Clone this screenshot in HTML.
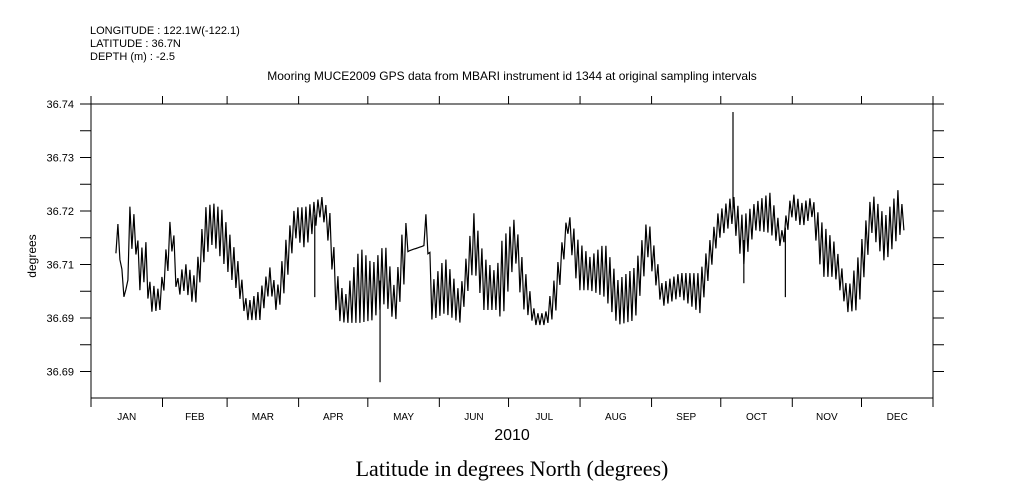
<!DOCTYPE html>
<html><head><meta charset="utf-8"><style>
body{margin:0;background:#fff;}
svg{display:block;font-family:"Liberation Sans",sans-serif;}
</style></head><body>
<svg id="chart" width="1009" height="504" viewBox="0 0 1009 504">
<text x="90" y="34" font-size="11">LONGITUDE : 122.1W(-122.1)</text>
<text x="90" y="47" font-size="11">LATITUDE : 36.7N</text>
<text x="90" y="60" font-size="11">DEPTH (m) : -2.5</text>
<text x="512" y="80" font-size="12" text-anchor="middle">Mooring MUCE2009 GPS data from MBARI instrument id 1344 at original sampling intervals</text>
<text transform="translate(36,256) rotate(-90)" font-size="12" text-anchor="middle">degrees</text>
<text x="512" y="440" font-size="16" text-anchor="middle">2010</text>
<text x="512" y="476" font-size="22" text-anchor="middle" font-family="Liberation Serif, serif">Latitude in degrees North (degrees)</text>
<rect x="91" y="104" width="842" height="294" fill="none" stroke="#000" stroke-width="1"/>
<g id="axes"></g>
<g id="series"></g>
</svg>
<script>
const monthLabels=["JAN","FEB","MAR","APR","MAY","JUN","JUL","AUG","SEP","OCT","NOV","DEC"];
const monthStarts=[0,31,59,90,120,151,181,212,243,273,304,334,365];
const yTickValues=[36.74,36.735,36.73,36.725,36.72,36.715,36.71,36.705,36.70,36.695,36.69];
const yTickLabels=["36.74","","36.73","","36.72","","36.71","","36.69","","36.69"];
const days=[10.8,12.1,13.0,15.2,16.9,19.1,21.2,23.4,25.6,29.9,35.1,37.3,40.7,45.1,49.4,52.9,56.8,63.3,67.6,73.2,77.6,80.6,84.1,88.4,92.8,100.1,103.6,106.6,110.1,116.6,122.0,127.4,131.8,136.1,137.4,144.3,145.5,147.8,153.4,159.9,166.0,170.3,175.6,178.2,183.8,186.8,192.5,197,201.1,206.8,211.1,216.3,222.8,228.4,235.8,241.4,247.5,255.3,264.0,271.8,278.3,282.6,287.8,294.3,299.5,303.9,308.2,312.5,316.9,322.5,328.1,332.5,338.5,344.2,349.8,352.4];
const lowVals=[36.7121,36.7150,36.7065,36.7021,36.7127,36.7133,36.7052,36.7071,36.7011,36.7015,36.7125,36.7039,36.7052,36.7021,36.7114,36.7140,36.7108,36.7052,36.6996,36.6996,36.7052,36.7009,36.7052,36.7151,36.7130,36.7196,36.7127,36.6996,36.6991,36.6991,36.6996,36.7028,36.6991,36.7071,36.7125,36.7135,36.7159,36.6996,36.7009,36.6991,36.7095,36.7015,36.7015,36.6996,36.7114,36.7021,36.6987,36.6987,36.7002,36.7159,36.7052,36.7052,36.7039,36.6987,36.6996,36.7114,36.7021,36.7039,36.7009,36.7146,36.7178,36.7095,36.7164,36.7159,36.7130,36.7189,36.7170,36.7189,36.7077,36.7077,36.7011,36.7015,36.7159,36.7103,36.7151,36.7164];
const highVals=[36.7135,36.7196,36.7100,36.7052,36.7211,36.7189,36.7114,36.7159,36.7065,36.7052,36.7206,36.7071,36.7103,36.7077,36.7206,36.7215,36.7202,36.7114,36.7028,36.7052,36.7095,36.7052,36.7140,36.7207,36.7207,36.7226,36.7196,36.7084,36.7039,36.7133,36.7100,36.7140,36.7052,36.7202,36.7125,36.7135,36.7215,36.7065,36.7114,36.7047,36.7196,36.7114,36.7084,36.7146,36.7187,36.7114,36.7009,36.7009,36.7077,36.7198,36.7146,36.7114,36.7140,36.7071,36.7095,36.7189,36.7065,36.7084,36.7084,36.7196,36.7230,36.7189,36.7215,36.7234,36.7164,36.7234,36.7215,36.7226,36.7178,36.7140,36.7052,36.7114,36.7234,36.7189,36.7239,36.7200];
const spikeDays=[97,125.3,278.3,283,301];
const spikeVals=[36.7039,36.6880,36.7385,36.7065,36.7039];

const NS="http://www.w3.org/2000/svg";
const X0=91,X1=933,Y0=104,Y1=398;
function xScale(d){return X0+(d/365)*(X1-X0);}
function yScale(v){return Y0+(36.74-v)*5350;}
function mk(tag,attrs,parent){const e=document.createElementNS(NS,tag);for(const k in attrs)e.setAttribute(k,attrs[k]);parent.appendChild(e);return e;}
const axes=document.getElementById('axes');
monthStarts.forEach((d,i)=>{
  const x=xScale(d);
  const t1=mk('line',{x1:x,x2:x,y1:Y0-8,y2:Y0,stroke:'#000'},axes);
  
  
  const t2=mk('line',{x1:x,x2:x,y1:Y1,y2:Y1+9,stroke:'#000'},axes);
  
  
  if(i<12){
    const lab=mk('text',{x:xScale((d+monthStarts[i+1])/2),y:420,'font-size':10,'text-anchor':'middle'},axes);
    lab.textContent=monthLabels[i];
    
    
  }
});
yTickValues.forEach((v,i)=>{
  const y=yScale(v);
  const a=mk('line',{x1:X0-11,x2:X0,y1:y,y2:y,stroke:'#000'},axes);
  
  
  const b=mk('line',{x1:X1,x2:X1+11,y1:y,y2:y,stroke:'#000'},axes);
  
  
  if(yTickLabels[i]){
    const t=mk('text',{x:74,y:y+4,'font-size':11,'text-anchor':'end'},axes);
    t.textContent=yTickLabels[i];
    
    
  }
});
function interp(arr,d){
  if(d<=days[0])return arr[0];
  for(let i=1;i<days.length;i++){if(d<=days[i]){const f=(d-days[i-1])/(days[i]-days[i-1]);return arr[i-1]+f*(arr[i]-arr[i-1]);}}
  return arr[arr.length-1];
}
const series=document.getElementById('series');
let pts=[];const xs=xScale(days[0]),xe=xScale(days[days.length-1]);
let k=0;
for(let x=xs;x<=xe;x+=2,k++){
  const d=(x-X0)/(X1-X0)*365;
  const v=(k%2===0)?interp(lowVals,d):interp(highVals,d);
  pts.push(x.toFixed(2)+','+yScale(v).toFixed(1));
}
const line=mk('polyline',{points:pts.join(' '),fill:'none',stroke:'#000','stroke-width':1.2},series);


spikeDays.forEach((d,i)=>{
  const x=xScale(d);
  const base=(interp(lowVals,d)+interp(highVals,d))/2;
  const s=mk('line',{x1:x,x2:x,y1:yScale(base),y2:yScale(spikeVals[i]),stroke:'#000','stroke-width':1.2},series);
  
  
});
</script>
</body></html>
